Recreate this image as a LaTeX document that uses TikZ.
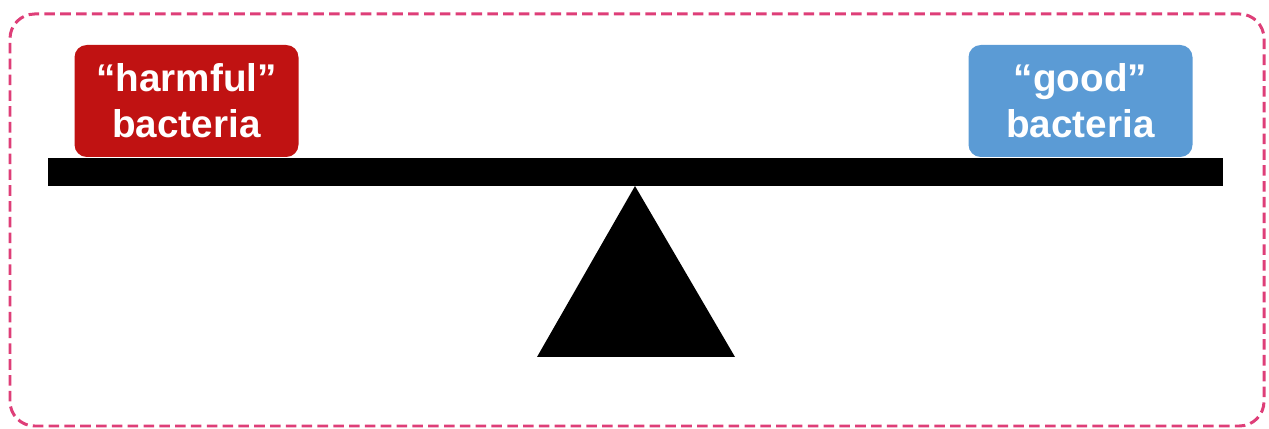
\documentclass[tikz,border=0pt]{standalone}
\usepackage{fontspec}
\setmainfont{Liberation Sans}
\usetikzlibrary{positioning,calc}
\definecolor{harmRed}{RGB}{192,18,18}
\definecolor{goodBlue}{RGB}{91,155,213}
\definecolor{frameRose}{RGB}{222,62,120}

\begin{document}
\begin{tikzpicture}[
        germ/.style={rounded corners=7pt,align=center,text=white,font=\fontsize{22}{26}\selectfont\bfseries,minimum width=4.48cm,minimum height=2.24cm,inner sep=0pt},
        frame/.style={draw=frameRose,dashed,dash pattern=on 6pt off 3pt,line width=1.7pt,rounded corners=14pt}
      ]
        \useasboundingbox (0,0) rectangle (25.38,8.58);
        \draw[frame] (0.2,0.06) rectangle (25.28,8.3);

        % beam and pivot
        \fill (0.96,4.86) rectangle (24.46,5.42);
        \coordinate (apex) at (12.7,4.86);
        \fill (apex) -- (14.7,1.44) -- (10.74,1.44) -- cycle;

        \node[germ,fill=harmRed] (harmful) at (3.73,6.56) {“harmful”\\bacteria};
        \node[germ,fill=goodBlue] (good) at (21.61,6.56) {“good”\\bacteria};
      \end{tikzpicture}
\end{document}
